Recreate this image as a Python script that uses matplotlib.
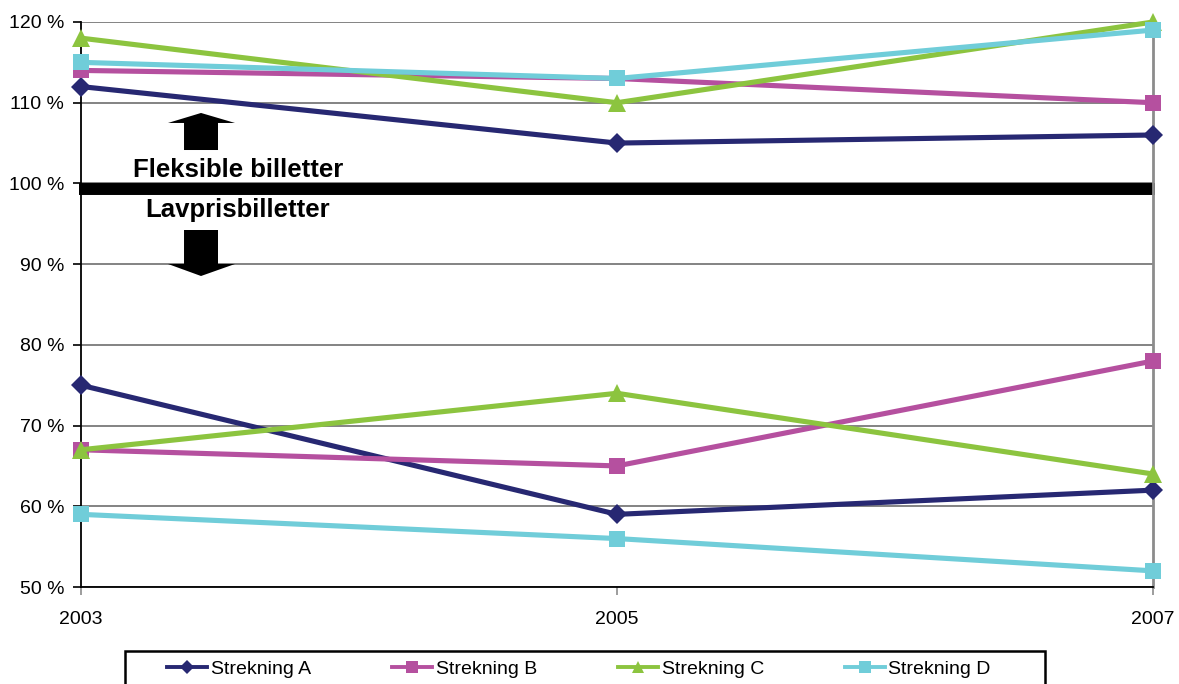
import matplotlib
matplotlib.use("Agg")
import matplotlib.pyplot as plt
from matplotlib.lines import Line2D
from matplotlib.patches import Polygon, Rectangle

plt.rcParams['font.family'] = ['Liberation Sans', 'DejaVu Sans']

# Data: ticket price index per route, flexible (upper) and low-price (lower) tickets
years = ["2003", "2005", "2007"]
series_names = ["Strekning A", "Strekning B", "Strekning C", "Strekning D"]
fleksible_A = [112, 105, 106]
fleksible_B = [114, 113, 110]
fleksible_C = [118, 110, 120]
fleksible_D = [115, 113, 119]
lavpris_A = [75, 59, 62]
lavpris_B = [67, 65, 78]
lavpris_C = [67, 74, 64]
lavpris_D = [59, 56, 52]
y_ticks = [50, 60, 70, 80, 90, 100, 110, 120]

upper = [fleksible_A, fleksible_B, fleksible_C, fleksible_D]
lower = [lavpris_A, lavpris_B, lavpris_C, lavpris_D]
colors = ["#272872", "#b5509f", "#8cc43f", "#70cdd9"]
markers = ["D", "s", "^", "s"]
msizes = [10, 12, 13, 12]

W, H = 1179, 684
fig = plt.figure(figsize=(W / 100, H / 100), dpi=100)
ax = fig.add_axes([81 / W, 1 - 587 / H, (1153 - 81) / W, (587 - 22) / H])

x = list(range(len(years)))

# Divider between flexible and low-price tickets
ax.axhline(99.3, xmin=-0.002, xmax=1.002, color="black", lw=8.6,
           solid_capstyle="butt", clip_on=False, zorder=2)

for vals_u, vals_l, c, m, ms in zip(upper, lower, colors, markers, msizes):
    for vals in (vals_u, vals_l):
        ax.plot(x, vals, color=c, lw=3.7, marker=m, markersize=ms,
                markeredgewidth=0, clip_on=False, zorder=3)

ax.set_xlim(0, len(years) - 1)
ax.set_ylim(50, 120)
ax.set_yticks(y_ticks)
ax.set_yticklabels([f"{v} %" for v in y_ticks])
ax.set_xticks(x)
ax.set_xticklabels(years)

ax.grid(axis="y", color="#6e6e6e", lw=1.2, zorder=1)
ax.set_axisbelow(True)
ax.spines["top"].set_visible(False)
ax.spines["right"].set_color("#8c8c8c")
ax.spines["right"].set_linewidth(2)
ax.spines["left"].set_color("black")
ax.spines["left"].set_linewidth(1.3)
ax.spines["bottom"].set_color("black")
ax.spines["bottom"].set_linewidth(1.3)
ax.tick_params(axis="y", length=6, width=1.2, color="black", labelsize=14, pad=6)
ax.tick_params(axis="x", length=6, width=1.2, color="#8c8c8c", labelsize=14, pad=11)

# Direction arrows
up = Polygon([(0.2239, 108.73), (0.2873, 107.49), (0.2556, 107.49), (0.2556, 104.14),
              (0.1922, 104.14), (0.1922, 107.49), (0.1623, 107.49)],
             closed=True, facecolor="black", edgecolor="none", zorder=4)
down = Polygon([(0.2239, 88.53), (0.2873, 90.02), (0.2556, 90.02), (0.2556, 94.23),
                (0.1922, 94.23), (0.1922, 90.02), (0.1623, 90.02)],
               closed=True, facecolor="black", edgecolor="none", zorder=4)
ax.add_patch(up)
ax.add_patch(down)
ax.text(0.2929, 100.8, "Fleksible billetter", ha="center", va="baseline",
        fontsize=18.5, fontweight="bold", zorder=5)
ax.text(0.2929, 95.84, "Lavprisbilletter", ha="center", va="baseline",
        fontsize=18.5, fontweight="bold", zorder=5)

# Legend box and entries
fig.patches.append(Rectangle((125 / W, -0.05), (1045 - 125) / W, 1 - 651 / H + 0.05,
                             transform=fig.transFigure, facecolor="white",
                             edgecolor="black", lw=1.8))
handles = [Line2D([], [], color=c, lw=2.8, marker=m, markersize=ms * 0.7,
                  markeredgewidth=0) for c, m, ms in zip(colors, markers, msizes)]
fig.legend(handles, series_names, loc="upper left",
           bbox_to_anchor=(167 / W, 1 - 660 / H), ncol=4, frameon=False,
           fontsize=14, handlelength=2.06, handletextpad=0.2,
           columnspacing=4.15, borderpad=0, borderaxespad=0)

fig.savefig("out.png", dpi=100)
